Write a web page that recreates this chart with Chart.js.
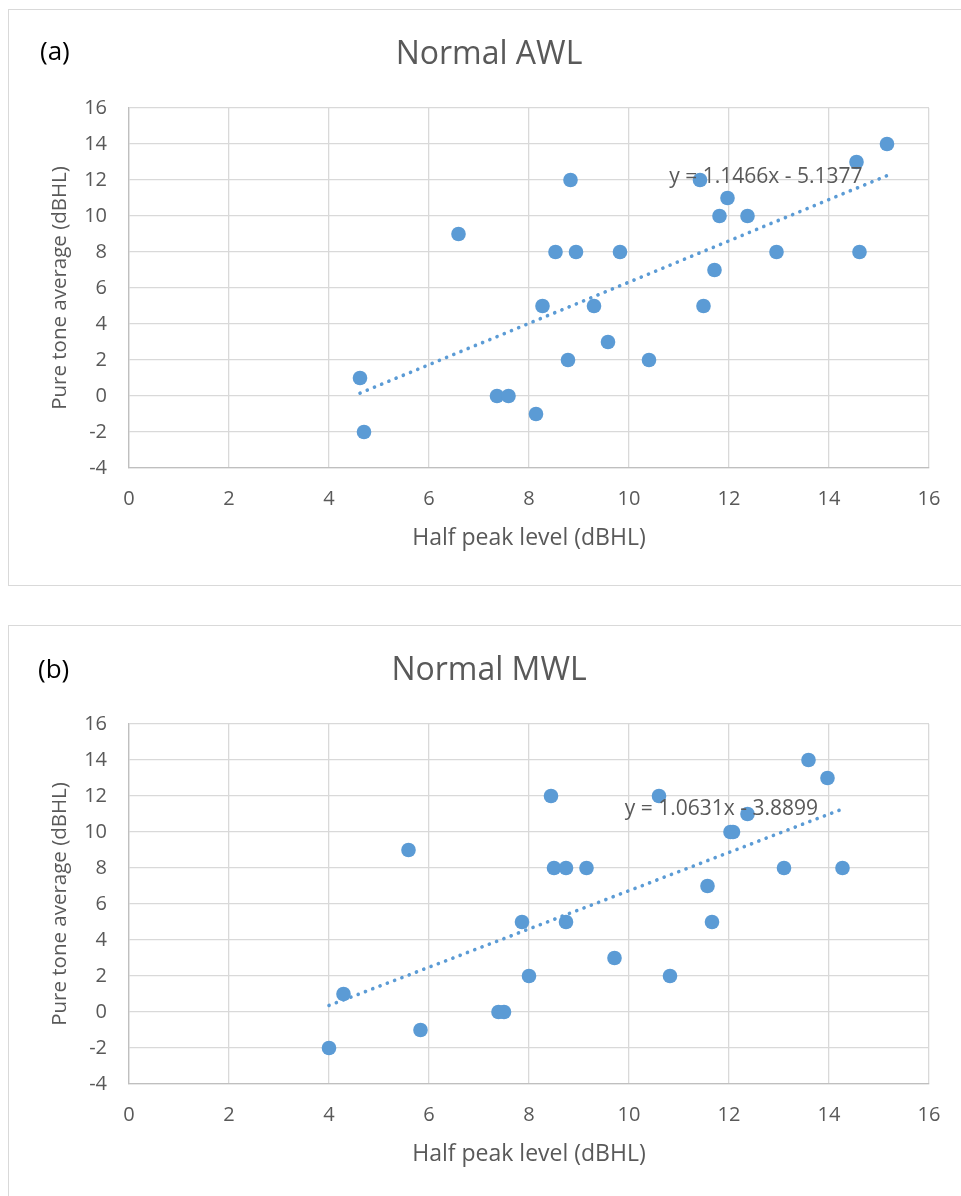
<!DOCTYPE html>
<html>
<head>
<meta charset="utf-8">
<script src="https://cdn.jsdelivr.net/npm/chart.js@4.4.1/dist/chart.umd.min.js"></script>
<style>
  html, body { margin: 0; padding: 0; background: #fff; overflow: hidden; }
  body { width: 961px; height: 1196px; position: relative; }
  .frame { position: absolute; border: 1px solid #d9d9d9; box-sizing: border-box; }
  .wrap { position: absolute; left: 0; width: 961px; height: 600px; }
  .tag { position: absolute; font-family: "Open Sans", sans-serif; font-size: 26px; line-height: 1; color: #000; }
</style>
</head>
<body>
<div class="frame" style="left:8px; top:9px; width:960px; height:577px;"></div>
<div class="frame" style="left:8px; top:625px; width:960px; height:600px;"></div>
<div class="wrap" style="top:0px;"><canvas id="chartA" width="961" height="600"></canvas></div>
<div class="wrap" style="top:616px;"><canvas id="chartB" width="961" height="600"></canvas></div>
<div class="tag" style="left:40px; top:37px;">(a)</div>
<div class="tag" style="left:38px; top:655px;">(b)</div>
<script>
// chart (a): Normal AWL
const awlHalfPeak = [4.62, 4.70, 6.59, 7.36, 7.59, 8.14, 8.27, 8.53, 8.78, 8.83, 8.94, 9.30, 9.58,
                     9.82, 10.40, 11.42, 11.49, 11.71, 11.81, 11.97, 12.37, 12.95, 14.55, 14.61, 15.16];
const awlPta = [1, -2, 9, 0, 0, -1, 5, 8, 2, 12, 8, 5, 3,
                8, 2, 12, 5, 7, 10, 11, 10, 8, 13, 8, 14];
const awlFit = { slope: 1.1466, intercept: -5.1377, label: 'y = 1.1466x - 5.1377' };

// chart (b): Normal MWL
const mwlHalfPeak = [4.00, 4.29, 5.59, 5.83, 7.39, 7.50, 7.86, 8.00, 8.44, 8.50, 8.74, 8.74, 9.15,
                     9.71, 10.60, 10.82, 11.57, 11.66, 12.03, 12.08, 12.37, 13.10, 13.59, 13.97, 14.27];
const mwlPta = [-2, 1, 9, -1, 0, 0, 5, 2, 12, 8, 8, 5, 8,
                3, 12, 2, 7, 5, 10, 10, 11, 8, 14, 13, 8];
const mwlFit = { slope: 1.0631, intercept: -3.8899, label: 'y = 1.0631x - 3.8899' };

const xTicks = [0, 2, 4, 6, 8, 10, 12, 14, 16];
const yTicks = [-4, -2, 0, 2, 4, 6, 8, 10, 12, 14, 16];

const blue = '#5b9bd5';
const grey = '#595959';
const font = '"Open Sans", sans-serif';

// label for the trendline equation, anchored in data space
const eqLabel = {
  id: 'eqLabel',
  afterDatasetsDraw(chart, args, opts) {
    const { ctx, scales } = chart;
    ctx.save();
    ctx.font = '21px ' + font;
    ctx.fillStyle = grey;
    ctx.textAlign = 'right';
    ctx.textBaseline = 'middle';
    ctx.fillText(opts.text, scales.x.getPixelForValue(opts.x), scales.y.getPixelForValue(opts.y));
    ctx.restore();
  }
};

function makeChart(id, title, xs, ys, fit, labelPos) {
  const pts = xs.map((x, i) => ({ x: x, y: ys[i] }));
  const lo = Math.min(...xs), hi = Math.max(...xs);
  const trend = [lo, hi].map(x => ({ x: x, y: fit.slope * x + fit.intercept }));

  return new Chart(document.getElementById(id), {
    type: 'scatter',
    data: {
      datasets: [{
        data: pts,
        backgroundColor: blue,
        borderWidth: 0,
        pointRadius: 7.3,
        order: 1
      }, {
        type: 'line',
        data: trend,
        borderColor: blue,
        borderWidth: 3.6,
        borderDash: [0.1, 7.7],
        borderCapStyle: 'round',
        pointRadius: 0,
        fill: false,
        order: 2
      }]
    },
    options: {
      responsive: false,
      animation: false,
      layout: { padding: { left: 0, right: 32, top: 108, bottom: 0 } },
      plugins: {
        legend: { display: false },
        tooltip: { enabled: false },
        title: { display: false },
        eqLabel: { text: fit.label, x: labelPos[0], y: labelPos[1] }
      },
      scales: {
        x: {
          type: 'linear',
          min: 0, max: 16,
          afterBuildTicks: s => { s.ticks = xTicks.map(v => ({ value: v })); },
          afterFit: s => { s.height = 132; },
          grid: { color: '#d9d9d9', lineWidth: 1.3, drawTicks: false },
          border: { color: '#bfbfbf', width: 1.3 },
          ticks: { color: grey, font: { family: font, size: 20 }, padding: 19 },
          title: { display: true, text: 'Half peak level (dBHL)', color: grey,
                   font: { family: font, size: 23 }, padding: { bottom: 48 } }
        },
        y: {
          type: 'linear',
          min: -4, max: 16,
          afterBuildTicks: s => { s.ticks = yTicks.map(v => ({ value: v })); },
          afterFit: s => { s.width = 129; },
          grid: { color: '#d9d9d9', lineWidth: 1.3, drawTicks: false },
          border: { color: '#bfbfbf', width: 1.3 },
          ticks: { color: grey, font: { family: font, size: 20 }, padding: 22 },
          title: { display: true, text: 'Pure tone average (dBHL)', color: grey,
                   font: { family: font, size: 20.5 }, padding: { top: 48 } }
        }
      }
    },
    plugins: [eqLabel, {
      id: 'chartTitle',
      afterDraw(chart) {
        const { ctx } = chart;
        ctx.save();
        ctx.font = '32px ' + font;
        ctx.fillStyle = grey;
        ctx.textAlign = 'center';
        ctx.textBaseline = 'middle';
        ctx.fillText(title, 489, 55);
        ctx.restore();
      }
    }]
  });
}

makeChart('chartA', 'Normal AWL', awlHalfPeak, awlPta, awlFit, [14.67, 12.18]);
makeChart('chartB', 'Normal MWL', mwlHalfPeak, mwlPta, mwlFit, [13.78, 11.28]);
</script>
</body>
</html>
